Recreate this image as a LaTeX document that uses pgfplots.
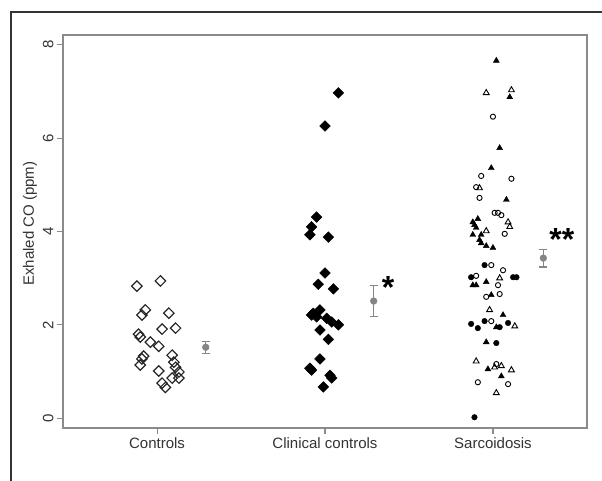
\documentclass[border=0pt]{standalone}
\usepackage{fontspec}
\setmainfont{Liberation Sans}
\usepackage{pgfplots}
\pgfplotsset{compat=1.18}

\definecolor{axgray}{HTML}{8A8A8A}
\definecolor{txtgray}{HTML}{333333}
\definecolor{barsgray}{HTML}{858585}

\begin{document}
\begin{tikzpicture}
% page: 602 x 481, axis box lower left at (63,53) from the page's lower left
\path[use as bounding box] (-63pt,-53pt) rectangle (539pt,428pt);
\draw[line width=1.4pt, black!80] (-52pt,-53pt) -- (-52pt,416pt) -- (539pt,416pt);

\begin{axis}[
    at={(0pt,0pt)}, anchor=south west,
    width=524pt, height=393pt, scale only axis,
    xmin=0.44, xmax=3.56,
    ymin=-0.21, ymax=8.21,
    xtick={1,2,3},
    xticklabels={Controls, Clinical controls, Sarcoidosis},
    ytick={0,2,4,6,8},
    xtick pos=bottom, ytick pos=left,
    tick align=outside,
    major tick length=6pt,
    axis line style={axgray, line width=1.3pt},
    tick style={axgray, line width=1.1pt},
    ticklabel style={font=\fontsize{15}{15}\selectfont, text=txtgray},
    yticklabel style={rotate=90, anchor=south},
    /pgf/number format/assume math mode=true,
    ylabel={Exhaled CO (ppm)},
    ylabel style={font=\fontsize{15}{15}\selectfont, text=txtgray,
                  at={(axis description cs:-0.063,0.52)}, anchor=center},
    clip=false,
]

% Controls: open diamonds
\addplot[only marks, mark=square, mark size=3.7pt,
    mark options={rotate=45, draw=black!85, line width=1.2pt, fill=white}]
coordinates {
(0.88,2.83)(1.02,2.94)(0.93,2.32)(0.91,2.21)(1.07,2.25)(1.03,1.91)
(1.11,1.93)(0.89,1.80)(0.90,1.74)(0.96,1.63)(1.01,1.54)(1.09,1.35)
(0.92,1.33)(0.91,1.27)(0.90,1.14)(1.10,1.20)(1.11,1.09)(1.13,0.99)
(1.01,1.01)(1.09,0.86)(1.13,0.86)(1.03,0.75)(1.05,0.66)
};

% Clinical controls: filled diamonds
\addplot[only marks, mark=square*, mark size=3.8pt,
    mark options={rotate=45, draw=black, fill=black}]
coordinates {
(2.08,6.97)(2.00,6.26)(1.95,4.31)(1.92,4.10)(1.91,3.93)(2.02,3.88)
(2.00,3.11)(1.96,2.87)(2.05,2.77)(1.93,2.25)(1.97,2.32)(1.95,2.17)
(2.01,2.14)(2.04,2.06)(2.08,2.00)(1.97,1.89)(2.02,1.69)(1.92,2.21)
(1.97,1.27)(1.91,1.07)(1.92,1.03)(2.03,0.92)(2.04,0.86)(1.99,0.67)
};

% Sarcoidosis: filled triangles
\addplot[only marks, mark=triangle*, mark size=3.4pt,
    mark options={draw=black, fill=black}]
coordinates {
(3.02,7.66)(3.10,6.88)(3.04,5.79)(2.99,5.36)(3.08,4.68)(2.91,4.27)
(2.88,4.20)(2.89,4.14)(2.90,4.08)(2.88,3.93)(2.93,3.93)(2.92,3.82)
(2.93,3.75)(2.96,3.69)(3.00,3.65)(2.96,2.92)(2.88,2.85)(2.90,2.85)
(2.99,2.64)(3.06,2.21)(3.02,1.95)(2.96,1.63)(2.97,1.05)(3.05,0.90)
};

% Sarcoidosis: open triangles
\addplot[only marks, mark=triangle, mark size=3.4pt,
    mark options={draw=black, line width=0.9pt, fill=white}]
coordinates {
(2.96,6.97)(3.11,7.03)(2.92,4.93)(3.09,4.20)(3.10,4.10)(2.96,4.01)
(3.04,3.00)(2.98,2.32)(3.13,1.97)(2.90,1.22)(3.01,1.09)(3.05,1.12)
(3.11,1.03)(3.02,0.54)
};

% Sarcoidosis: open circles
\addplot[only marks, mark=o, mark size=2.6pt,
    mark options={draw=black, line width=0.9pt, fill=white}]
coordinates {
(3.00,6.46)(2.93,5.19)(3.11,5.13)(2.90,4.95)(2.92,4.72)(3.01,4.40)
(3.03,4.40)(3.05,4.35)(3.07,3.95)(2.99,3.28)(3.06,3.17)(2.90,3.05)
(3.03,2.85)(2.96,2.60)(3.04,2.66)(2.99,2.08)(3.02,1.16)(2.91,0.77)
(3.09,0.73)
};

% Sarcoidosis: filled circles
\addplot[only marks, mark=*, mark size=2.8pt,
    mark options={draw=black, fill=black}]
coordinates {
(2.95,3.28)(2.87,3.02)(3.12,3.02)(3.14,3.02)(2.95,2.08)(2.87,2.02)
(2.91,1.93)(3.09,2.04)(3.02,1.61)(3.04,1.95)(2.89,0.02)
};

% group means with error bars
\addplot[only marks, mark=*, mark size=3.4pt,
    mark options={draw=barsgray, fill=barsgray},
    error bars/.cd, y dir=both, y explicit,
    error bar style={barsgray, line width=1.4pt},
    error mark options={rotate=90, mark size=4pt, barsgray, line width=1.3pt}]
coordinates {
(1.29,1.52) +- (0,0.13)
(2.29,2.51) +- (0,0.33)
(3.30,3.43) +- (0,0.19)
};

\node[font=\fontsize{32}{32}\selectfont\bfseries] at (axis cs:2.375,2.80) {*};
\node[font=\fontsize{32}{32}\selectfont\bfseries] at (axis cs:3.41,3.83) {**};
\end{axis}
\end{tikzpicture}
\end{document}
